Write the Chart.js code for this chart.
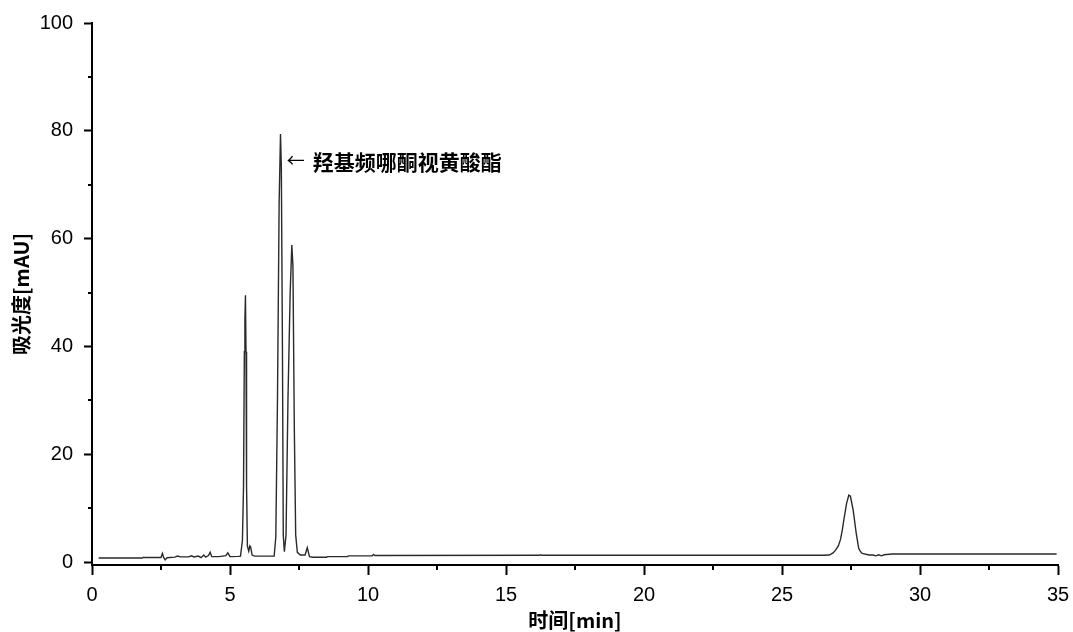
<!DOCTYPE html>
<html>
<head>
<meta charset="utf-8">
<script src="https://cdn.jsdelivr.net/npm/chart.js@4"></script>
<style>
  html, body { margin: 0; padding: 0; background: #fff; }
  #wrap { width: 1073px; height: 632px; }
</style>
</head>
<body>
<div id="wrap"><canvas id="chart" width="1073" height="632"></canvas></div>
<script>
// retention time [min]
const times = [
  0.24, 1.0, 1.82, 1.85, 2.50, 2.55, 2.60, 2.65, 2.72, 3.0, 3.1, 3.2, 3.5, 3.6, 3.7, 3.85, 3.95,
  4.05, 4.12, 4.22, 4.28, 4.34, 4.6, 4.85, 4.92, 5.0, 5.3, 5.38,
  5.45, 5.49, 5.52, 5.54, 5.56, 5.58, 5.60, 5.63, 5.68, 5.72, 5.75, 5.80, 5.9, 6.6,
  6.66, 6.72, 6.78, 6.83, 6.86, 6.90, 6.93, 6.97, 7.03, 7.10, 7.18, 7.24, 7.28, 7.33, 7.38, 7.44,
  7.55, 7.72, 7.80, 7.88, 8.0, 8.5, 8.52, 9.25, 9.3, 10.15, 10.2, 10.25, 16.2, 16.25, 16.3, 20, 26.5,
  26.71, 26.85, 26.94, 27.04, 27.12, 27.18, 27.24, 27.34, 27.42, 27.48, 27.58, 27.69, 27.78, 27.85, 27.91, 28.15,
  28.3, 28.4, 28.5, 28.6, 28.7, 28.8, 29, 34.95
];
// absorbance [mAU]
const absorbance = [
  0.75, 0.75, 0.75, 0.85, 0.85, 1.6, 0.8, 0.4, 0.8, 0.9, 1.1, 0.95, 0.95, 1.15, 0.95, 1.1, 0.8,
  1.3, 0.9, 1.2, 1.8, 1.0, 1.0, 1.2, 1.7, 1.0, 1.05, 1.1,
  4, 14, 39, 45, 49.5, 39, 14, 3, 2.0, 3.0, 2.8, 1.3, 1.1, 1.1,
  4.7, 30, 66.5, 79.4, 73.3, 40, 5, 1.9, 5, 30, 50, 58.8, 55, 25, 5, 1.8,
  1.3, 1.3, 2.65, 1.0, 0.9, 0.9, 1.0, 1.0, 1.15, 1.15, 1.4, 1.2, 1.25, 1.35, 1.25, 1.25, 1.25,
  1.3, 1.7, 2.2, 3.0, 4.2, 5.8, 7.8, 10.9, 12.4, 12.2, 9.6, 5.3, 2.5, 1.9, 1.6, 1.3,
  1.3, 1.15, 1.35, 1.15, 1.35, 1.4, 1.5, 1.5
];
const xTicks = [0, 5, 10, 15, 20, 25, 30, 35];
const xMinorTicks = [2.5, 7.5, 12.5, 17.5, 22.5, 27.5, 32.5];
const yTicks = [0, 20, 40, 60, 80, 100];
const yMinorTicks = [10, 30, 50, 70, 90];
const peakLabel = '羟基频哪酮视黄酸酯';

const points = times.map((t, i) => ({ x: t, y: absorbance[i] }));

// minor ticks + peak annotation
const extras = {
  id: 'extras',
  afterDraw(chart) {
    const ctx = chart.ctx;
    const xs = chart.scales.x, ys = chart.scales.y;
    const area = chart.chartArea;
    ctx.save();
    ctx.strokeStyle = '#000';
    ctx.lineWidth = 2;
    ctx.beginPath();
    xMinorTicks.forEach(v => {
      const px = Math.round(xs.getPixelForValue(v));
      ctx.moveTo(px, area.bottom);
      ctx.lineTo(px, area.bottom + 5);
    });
    yMinorTicks.forEach(v => {
      const py = Math.round(ys.getPixelForValue(v));
      ctx.moveTo(area.left, py);
      ctx.lineTo(area.left - 4, py);
    });
    ctx.stroke();

    const ax = xs.getPixelForValue(7.2);
    const ay = ys.getPixelForValue(74.5);
    ctx.fillStyle = '#000';
    ctx.textBaseline = 'middle';
    ctx.font = '18px "Noto Sans CJK SC", sans-serif';
    ctx.fillText('←', ax - 4, ay);
    ctx.font = 'bold 21px "Noto Sans CJK SC", sans-serif';
    ctx.fillText(peakLabel, ax + 22, ay + 2);
    ctx.restore();
  }
};

new Chart(document.getElementById('chart'), {
  type: 'line',
  data: {
    datasets: [{
      data: points,
      borderColor: '#2a2a2a',
      borderWidth: 1.4,
      pointRadius: 0,
      tension: 0,
      fill: false
    }]
  },
  options: {
    responsive: false,
    animation: false,
    events: [],
    layout: { padding: { top: 23, right: 15, left: 0, bottom: 0 } },
    plugins: { legend: { display: false }, tooltip: { enabled: false } },
    scales: {
      x: {
        type: 'linear',
        min: 0,
        max: 35,
        afterBuildTicks: axis => { axis.ticks = xTicks.map(v => ({ value: v })); },
        afterFit: axis => { axis.height = 67; axis.paddingLeft = 0; axis.paddingRight = 0; },
        border: { display: true, color: '#000', width: 2 },
        grid: { drawOnChartArea: false, drawTicks: true, tickLength: 10, tickColor: '#000', tickWidth: 2 },
        ticks: {
          color: '#000',
          padding: 8,
          maxRotation: 0,
          font: { family: '"Liberation Sans", Arial, sans-serif', size: 20 }
        },
        title: {
          display: true,
          text: '时间[min]',
          color: '#000',
          padding: { top: 0, bottom: 0 },
          font: { family: '"Noto Sans CJK SC", sans-serif', size: 20, weight: 'bold' }
        }
      },
      y: {
        type: 'linear',
        min: -0.55,
        max: 100,
        afterBuildTicks: axis => { axis.ticks = yTicks.map(v => ({ value: v })); },
        afterFit: axis => { axis.width = 92; axis.paddingTop = 0; axis.paddingBottom = 0; },
        border: { display: true, color: '#000', width: 2 },
        grid: { drawOnChartArea: false, drawTicks: true, tickLength: 8, tickColor: '#000', tickWidth: 2 },
        ticks: {
          color: '#000',
          padding: 11,
          font: { family: '"Liberation Sans", Arial, sans-serif', size: 20 }
        },
        title: {
          display: true,
          text: '吸光度[mAU]',
          color: '#000',
          padding: { top: 9, bottom: 0 },
          font: { family: '"Noto Sans CJK SC", sans-serif', size: 20, weight: 'bold' }
        }
      }
    }
  },
  plugins: [extras]
});
</script>
</body>
</html>
